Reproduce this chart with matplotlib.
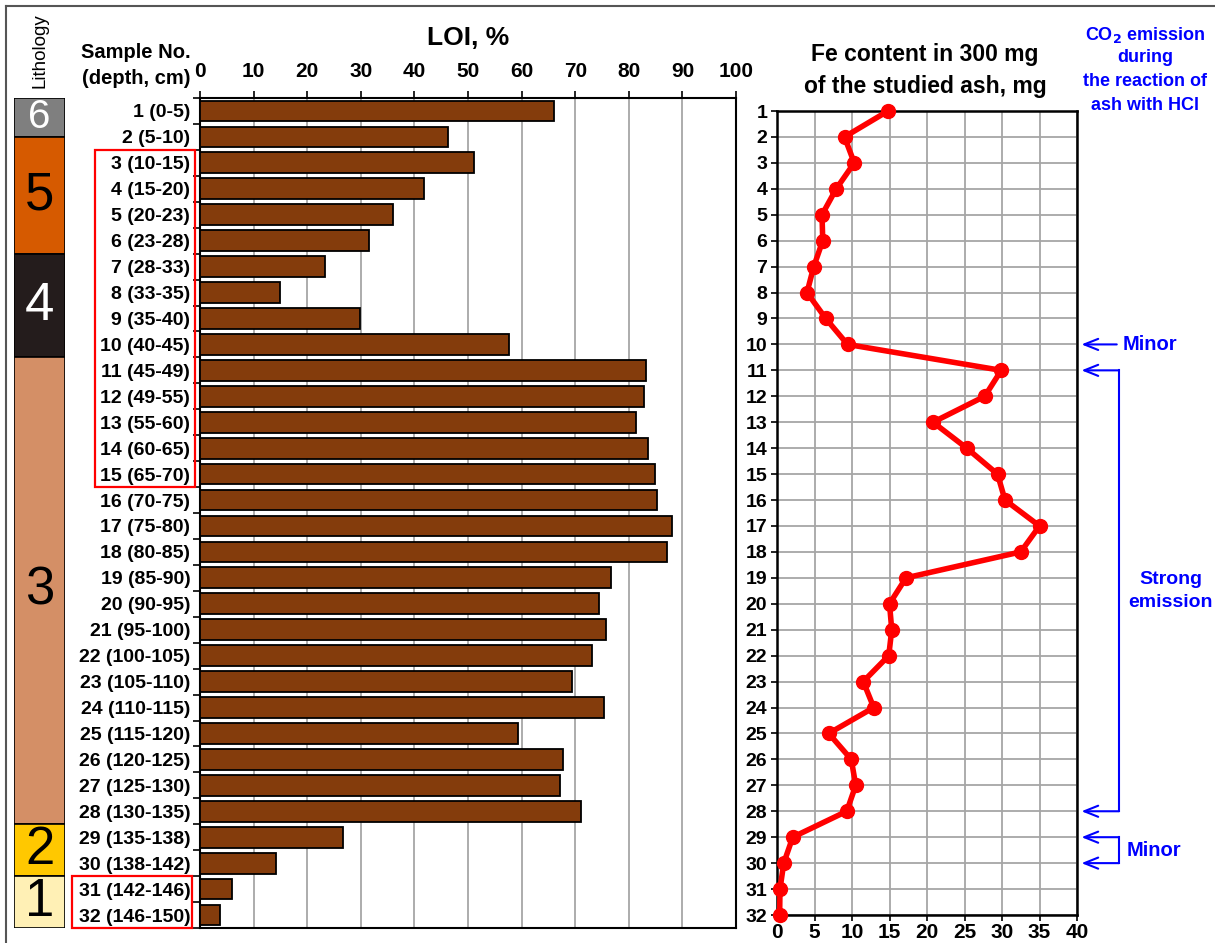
import matplotlib
matplotlib.use("Agg")
import matplotlib.pyplot as plt
import numpy as np

plt.rcParams['font.family'] = ['Liberation Sans', 'DejaVu Sans']
plt.rcParams['font.weight'] = 'bold'

# ---------------- data ----------------
sample_labels = ["1 (0-5)", "2 (5-10)", "3 (10-15)", "4 (15-20)", "5 (20-23)", "6 (23-28)",
                 "7 (28-33)", "8 (33-35)", "9 (35-40)", "10 (40-45)", "11 (45-49)", "12 (49-55)",
                 "13 (55-60)", "14 (60-65)", "15 (65-70)", "16 (70-75)", "17 (75-80)", "18 (80-85)",
                 "19 (85-90)", "20 (90-95)", "21 (95-100)", "22 (100-105)", "23 (105-110)",
                 "24 (110-115)", "25 (115-120)", "26 (120-125)", "27 (125-130)", "28 (130-135)",
                 "29 (135-138)", "30 (138-142)", "31 (142-146)", "32 (146-150)"]
sample_no = list(range(1, 33))
loi = [66.0, 46.3, 51.1, 41.7, 36.1, 31.5, 23.4, 14.9, 29.8, 57.7,
       83.2, 82.9, 81.4, 83.6, 84.8, 85.3, 88.1, 87.1, 76.6, 74.4,
       75.7, 73.1, 69.4, 75.4, 59.3, 67.8, 67.2, 71.0, 26.7, 14.1, 6.0, 3.8]
fe = [14.8, 9.0, 10.3, 7.9, 6.0, 6.1, 4.9, 4.0, 6.5, 9.4,
      29.9, 27.7, 20.8, 25.3, 29.4, 30.4, 35.0, 32.5, 17.2, 15.0,
      15.3, 14.9, 11.5, 12.9, 6.9, 9.9, 10.5, 9.3, 2.1, 0.9, 0.4, 0.35]
loi_ticks = list(range(0, 101, 10))
fe_ticks = list(range(0, 41, 5))

litho_units = ["6", "5", "4", "3", "2", "1"]
litho_top = [0.5, 2.0, 6.5, 10.5, 28.5, 30.5]
litho_bottom = [2.0, 6.5, 10.5, 28.5, 30.5, 32.5]
litho_colors = ["#7f7f7f", "#d65a00", "#241c1c", "#d48f66", "#ffc800", "#fff0b5"]
litho_text_colors = ["white", "black", "white", "black", "black", "black"]

box_groups = [(3, 15), (31, 32)]
minor_rows = [10, 29, 30]
strong_range = (11, 28)

# ---------------- layout helpers ----------------
W, H = 1215, 943
fig = plt.figure(figsize=(W / 100, H / 100), dpi=100)


def rect(x0, y0, x1, y1):
    return [x0 / W, 1 - y1 / H, (x1 - x0) / W, (y1 - y0) / H]


def ftxt(x, y, s, **kw):
    return fig.text(x / W, 1 - y / H, s, **kw)


# outer frame (top + left)
fig.add_artist(plt.Line2D([6 / W, 1], [1 - 6 / H, 1 - 6 / H], color="#555555", lw=1.5))
fig.add_artist(plt.Line2D([6 / W, 6 / W], [0, 1 - 6 / H], color="#555555", lw=1.5))

# ---------------- lithology column ----------------
axl = fig.add_axes(rect(14, 98, 65, 928))
for u, t, b, c, tc in zip(litho_units, litho_top, litho_bottom, litho_colors, litho_text_colors):
    axl.barh((t + b) / 2, 1, height=b - t, left=0, color=c, edgecolor="black", lw=1.2)
    fs = 38 if (b - t) > 1.6 else 29
    axl.text(0.5, (t + b) / 2, u, ha="center", va="center", color=tc,
             fontsize=fs, fontweight="normal")
axl.set_xlim(0, 1)
axl.set_ylim(32.5, 0.5)
axl.axis("off")
ftxt(40, 51, "Lithology", rotation=90, ha="center", va="center", fontsize=13.5,
     fontweight="normal")

# ---------------- LOI bar chart ----------------
ax1 = fig.add_axes(rect(200, 98, 736, 928))
ax1.barh(sample_no, loi, height=0.8, color="#843c0c", edgecolor="black", lw=1.3, zorder=3)
ax1.set_xlim(0, 100)
ax1.set_ylim(32.5, 0.5)
ax1.set_xticks(loi_ticks)
ax1.set_xticklabels([str(t) for t in loi_ticks], fontsize=15, fontweight="bold")
ax1.xaxis.tick_top()
ax1.tick_params(axis="x", direction="out", length=5, width=1.2, pad=7)
ax1.set_yticks(sample_no)
ax1.set_yticklabels(sample_labels, fontsize=14, fontweight="bold")
ax1.tick_params(axis="y", length=0, pad=7)
ax1.set_yticks(np.arange(0.5, 33, 1), minor=True)
ax1.tick_params(axis="y", which="minor", length=5, width=1.2, direction="out")
ax1.grid(axis="x", color="#a6a6a6", lw=1.3, zorder=0)
for s in ax1.spines.values():
    s.set_linewidth(1.5)
ftxt(468, 38, "LOI, %", ha="center", va="center", fontsize=19, fontweight="bold")
ftxt(191, 52, "Sample No.", ha="right", va="center", fontsize=14.5, fontweight="bold")
ftxt(191, 79, "(depth, cm)", ha="right", va="center", fontsize=14.5, fontweight="bold")

# red boxes around label groups
box_x = {(3, 15): (95, 195), (31, 32): (72, 192)}
for g in box_groups:
    x0, x1 = box_x[g]
    y0 = ax1.transData.transform((0, g[0] - 0.5))[1]
    y1 = ax1.transData.transform((0, g[1] + 0.5))[1]
    fig.add_artist(plt.Rectangle((x0 / W, y1 / fig.bbox.height), (x1 - x0) / W,
                                 (y0 - y1) / fig.bbox.height, fill=False,
                                 edgecolor="#ff0000", lw=1.6, transform=fig.transFigure))

# ---------------- Fe line chart ----------------
ax2 = fig.add_axes(rect(777, 111, 1077, 915))
ax2.plot(fe, sample_no, color="#ff0000", lw=4, marker="o", ms=10, zorder=3, clip_on=False)
ax2.set_xlim(0, 40)
ax2.set_ylim(32, 1)
ax2.set_xticks(fe_ticks)
ax2.set_xticklabels([str(t) for t in fe_ticks], fontsize=15, fontweight="bold")
ax2.set_yticks(sample_no)
ax2.set_yticklabels([str(n) for n in sample_no], fontsize=14, fontweight="bold")
ax2.tick_params(axis="both", direction="out", length=4, width=1.2, pad=3)
ax2.tick_params(axis="x", pad=2)
ax2.grid(True, color="#a6a6a6", lw=1.3, zorder=0)
for s in ax2.spines.values():
    s.set_linewidth(1.8)
ftxt(925, 55, "Fe content in 300 mg", ha="center", va="center", fontsize=16.5, fontweight="bold")
ftxt(925, 86, "of the studied ash, mg", ha="center", va="center", fontsize=16.5, fontweight="bold")

# ---------------- CO2 annotations ----------------
blue = "#0000ff"
ftxt(1145, 35, "CO$_\\mathbf{2}$ emission", ha="center", va="center", fontsize=13,
     fontweight="bold", color=blue)
ftxt(1145, 58, "during", ha="center", va="center", fontsize=13, fontweight="bold", color=blue)
ftxt(1145, 82, "the reaction of", ha="center", va="center", fontsize=13, fontweight="bold", color=blue)
ftxt(1145, 105, "ash with HCl", ha="center", va="center", fontsize=13, fontweight="bold", color=blue)

x_tip, x_tail, x_br = 40.6, 45.3, 45.6
arrow_kw = dict(arrowstyle="->,head_length=1.0,head_width=0.4", color=blue, lw=1.5,
                shrinkA=0, shrinkB=0)
all_arrow_rows = [minor_rows[0], strong_range[0], strong_range[1], minor_rows[1], minor_rows[2]]
for r in all_arrow_rows:
    tail = x_tail if r == minor_rows[0] else x_br
    ax2.annotate("", xy=(x_tip, r), xytext=(tail, r), arrowprops=arrow_kw,
                 annotation_clip=False)
ax2.plot([x_br, x_br], [strong_range[0], strong_range[1]], color=blue, lw=1.5, clip_on=False)
ax2.plot([x_br, x_br], [minor_rows[1], minor_rows[2]], color=blue, lw=1.5, clip_on=False)
ax2.text(46.1, minor_rows[0], "Minor", ha="left", va="center", fontsize=14.5,
         fontweight="bold", color=blue, clip_on=False)
ax2.text(46.6, (minor_rows[1] + minor_rows[2]) / 2, "Minor", ha="left", va="center",
         fontsize=14.5, fontweight="bold", color=blue, clip_on=False)
ax2.text(52.5, (strong_range[0] + strong_range[1]) / 2, "Strong\nemission", ha="center",
         va="center", fontsize=14, fontweight="bold", color=blue, linespacing=1.5,
         clip_on=False)

fig.savefig("out.png", dpi=100)
